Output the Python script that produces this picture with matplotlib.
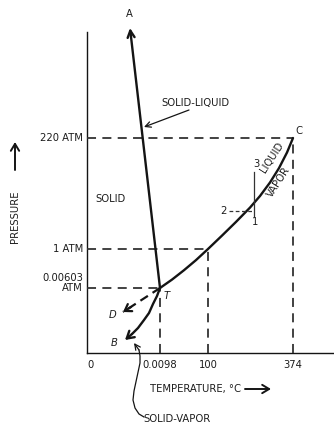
import matplotlib
matplotlib.use("Agg")
import matplotlib.pyplot as plt

plt.rcParams['font.family'] = ['DejaVu Sans']
plt.rcParams['font.stretch'] = 'condensed'

# schematic phase diagram of water (not to scale)
t_labels = ['0', '0.0098', '100', '374']
t_pos = [0, 73, 121, 206]
p_labels = ['0.00603\nATM', '1 ATM', '220 ATM']
p_pos = [65, 104, 215]

# liquid-vapor curve: T -> boiling point -> C
lv_x = [73, 85, 97, 109, 121, 135, 149, 163, 173, 183, 192, 200, 206]
lv_y = [65, 73.4, 82.8, 92.9, 104, 117.4, 131.1, 145.4, 157, 170.5, 184.9, 200.5, 215]

# solid-vapor curve: T -> B
sv_x = [73, 70, 66, 62, 57, 51, 45, 38]
sv_y = [65, 57, 49, 40, 33, 25, 19, 13]

# solid-liquid line: T -> A
sl_x = [73, 43]
sl_y = [65, 325]

# metastable extension: T -> D
d_x = [73, 36]
d_y = [65, 41]

# leader curve for the SOLID-VAPOR label
lead_x = [57, 52, 48, 46, 47, 50, 53, 53, 52, 47]
lead_y = [-64, -61, -55, -47, -38, -24, -10, -3, 3, 10]

ink = '#141414'
txt = '#1c1c1c'
fs = 8

fig = plt.figure(figsize=(3.34, 4.25), dpi=100)
ax = fig.add_axes([0, 0, 1, 1])
ax.set_xlim(-87, 247)
ax.set_ylim(-72, 353)
ax.axis('off')

# axes lines
ax.plot([0, 0], [0, 321], color=ink, lw=1.0)
ax.plot([0, 247], [0, 0], color=ink, lw=1.0)

# dashed guide lines to T, boiling point and C
for tx, py in zip(t_pos[1:], p_pos):
    ax.plot([0, tx], [py, py], color='#333333', lw=1.3, dashes=(5, 3.5))
    ax.plot([tx, tx], [0, py], color='#333333', lw=1.3, dashes=(5, 3.5))

# curves
ax.plot(lv_x, lv_y, color=ink, lw=1.7, solid_capstyle='round', solid_joinstyle='round')
ax.plot(sv_x[:-1], sv_y[:-1], color=ink, lw=1.7, solid_capstyle='round', solid_joinstyle='round')
ax.annotate('', xy=(sv_x[-1], sv_y[-1]), xytext=(sv_x[-2], sv_y[-2]),
            arrowprops=dict(arrowstyle='->,head_length=0.5,head_width=0.3', color=ink, lw=1.7,
                            shrinkA=0, shrinkB=0))
ax.annotate('', xy=(sl_x[1], sl_y[1]), xytext=(sl_x[0], sl_y[0]),
            arrowprops=dict(arrowstyle='->,head_length=0.5,head_width=0.25', color=ink, lw=1.7,
                            shrinkA=0, shrinkB=0))
ax.plot(d_x, d_y, color=ink, lw=1.6, dashes=(4, 2.5))
ax.annotate('', xy=(d_x[1], d_y[1]), xytext=(d_x[1] + 8, d_y[1] + 5),
            arrowprops=dict(arrowstyle='->,head_length=0.45,head_width=0.3', color=ink, lw=1.6,
                            shrinkA=0, shrinkB=0))

# process path 1-2-3 near the vapor pressure curve
ax.plot([142, 167], [142, 142], color='#333333', lw=0.9, dashes=(3, 2))
ax.plot([167, 167], [137, 181], color='#333333', lw=0.9)
ax.text(136, 142, '2', fontsize=fs, color=txt, ha='center', va='center')
ax.text(169, 189, '3', fontsize=fs, color=txt, ha='center', va='center')
ax.text(168, 131, '1', fontsize=fs, color=txt, ha='center', va='center')

# tick labels
for lab, x in zip(t_labels, t_pos):
    ax.text(x + (3 if lab == '0' else 0), -12, lab, fontsize=fs, color=txt,
            ha='center', va='center')
for lab, y in zip(p_labels, p_pos):
    ax.text(-4, y + (5 if '\n' in lab else 0), lab, fontsize=fs, color=txt, ha='right',
            va='center', multialignment='right', linespacing=1.05)

# point letters
ax.text(42, 339, 'A', fontsize=fs, color=txt, ha='center', va='center')
ax.text(212, 222, 'C', fontsize=fs, color=txt, ha='center', va='center')
ax.text(80, 57, 'T', fontsize=fs, color=txt, ha='center', va='center', style='italic')
ax.text(26, 38, 'D', fontsize=fs, color=txt, ha='center', va='center', style='italic')
ax.text(27, 10, 'B', fontsize=fs, color=txt, ha='center', va='center', style='italic')

# region labels
ax.text(23, 154, 'SOLID', fontsize=fs, color=txt, ha='center', va='center')
ax.text(108, 250, 'SOLID-LIQUID', fontsize=fs, color=txt, ha='center', va='center')
ax.annotate('', xy=(57, 226), xytext=(102, 243),
            arrowprops=dict(arrowstyle='->,head_length=0.4,head_width=0.2', color=ink, lw=0.9,
                            shrinkA=0, shrinkB=0))
ax.text(185, 196, 'LIQUID', fontsize=fs, color=txt, ha='center', va='center', rotation=57)
ax.text(192, 171, 'VAPOR', fontsize=fs, color=txt, ha='center', va='center', rotation=57)

# axis titles
ax.text(-72, 136, 'PRESSURE', fontsize=fs, color=txt, ha='center', va='center', rotation=90)
ax.annotate('', xy=(-72, 211), xytext=(-72, 183),
            arrowprops=dict(arrowstyle='->,head_length=0.5,head_width=0.3', color=ink, lw=1.4,
                            shrinkA=0, shrinkB=0))
ax.text(108, -36, 'TEMPERATURE, °C', fontsize=fs, color=txt, ha='center', va='center')
ax.annotate('', xy=(184, -36), xytext=(158, -36),
            arrowprops=dict(arrowstyle='->,head_length=0.5,head_width=0.3', color=ink, lw=1.4,
                            shrinkA=0, shrinkB=0))

# SOLID-VAPOR label with curved leader
ax.text(90, -66, 'SOLID-VAPOR', fontsize=fs, color=txt, ha='center', va='center')
ax.plot(lead_x[:-1], lead_y[:-1], color=ink, lw=0.9)
ax.annotate('', xy=(lead_x[-1], lead_y[-1]), xytext=(lead_x[-2], lead_y[-2]),
            arrowprops=dict(arrowstyle='->,head_length=0.4,head_width=0.2', color=ink, lw=0.9,
                            shrinkA=0, shrinkB=0))

fig.savefig('out.png', dpi=100, facecolor='white')
